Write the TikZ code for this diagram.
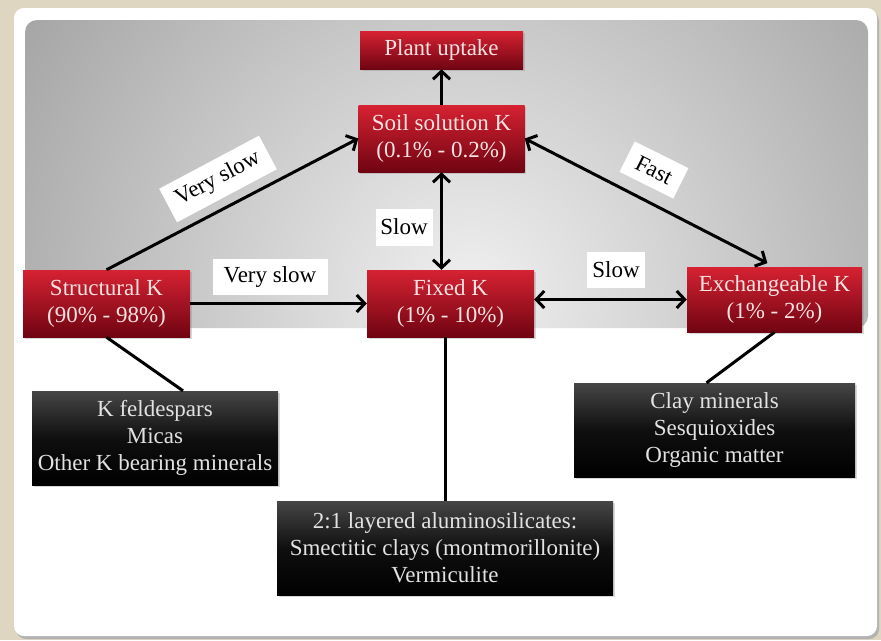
\documentclass[tikz,border=0pt]{standalone}
\usepackage{fontspec}
\setmainfont{Liberation Serif}
\usepackage{xcolor}
\definecolor{kbeige}{RGB}{222,214,193}
\definecolor{kredtop}{RGB}{214,34,50}
\definecolor{kredbot}{RGB}{112,4,18}
\definecolor{kpink}{RGB}{248,226,226}
\definecolor{kgraylight}{RGB}{240,240,240}
\definecolor{kgraydark}{RGB}{92,92,92}
\definecolor{kdarktop}{RGB}{70,70,70}
\definecolor{ksilver}{RGB}{226,226,226}
\usepackage{tikz}
\usetikzlibrary{arrows.meta, positioning, calc, shadows}

\begin{document}
\begin{tikzpicture}[x=1pt, y=-1pt,
  pool/.style={top color=kredtop, bottom color=kredbot, text=kpink, align=center,
      font=\fontsize{23}{27}\selectfont, inner sep=0pt, minimum height=67pt,
      drop shadow={opacity=0.3, shadow xshift=1.5pt, shadow yshift=-2pt}},
  source/.style={top color=kdarktop, bottom color=black, middle color=black!94,
      text=ksilver, align=center, font=\fontsize{23}{27}\selectfont,
      inner sep=0pt, minimum height=94pt,
      drop shadow={opacity=0.3, shadow xshift=1.5pt, shadow yshift=-2pt}},
  rate/.style={fill=white, text=black, font=\fontsize{23}{27}\selectfont,
      inner sep=0pt, minimum height=36pt},
  flow/.style={line width=3pt, -{Straight Barb[length=8pt, width=17pt]}},
  flowboth/.style={line width=3pt,
      {Straight Barb[length=8pt, width=17pt]}-{Straight Barb[length=8pt, width=17pt]}},
  link/.style={line width=3pt}]

\useasboundingbox (0,0) rectangle (881,640);

% --- Slide frame ---
\fill[kbeige] (0,0) rectangle (881,640);
\fill[black!30, rounded corners=10pt] (16,11) rectangle (879,639);
\fill[white, rounded corners=10pt] (14,8) rectangle (877,636);

% --- Gray panel behind the pools ---
\begin{scope}
  \clip[rounded corners=12pt] (25,20) rectangle (868,328);
  \shade[inner color=kgraylight, outer color=kgraydark] (470,295) circle (1040);
\end{scope}

% --- Potassium pools ---
\node[pool, minimum width=163pt, minimum height=38pt] (plant-uptake) at (441.5,50) {Plant uptake};
\node[pool, minimum width=166pt] (soil-sol) at (441.5,138.5) {Soil solution K\\(0.1\% - 0.2\%)};
\node[pool, minimum width=167pt] (fixed-k) at (450.5,303.5) {Fixed K\\(1\% - 10\%)};
\node[pool, minimum width=167pt] (struct-k) at (106.5,303.5) {Structural K\\(90\% - 98\%)};
\node[pool, minimum width=175pt, minimum height=65pt] (exch-k) at (774.5,299.5) {Exchangeable K\\(1\% - 2\%)};

% --- Mineral sources ---
\node[source, minimum width=246pt] (struct-min) at (155,438)
      {K feldespars\\Micas\\Other K bearing minerals};
\node[source, minimum width=281pt] (exch-min) at (714.5,430)
      {Clay minerals\\Sesquioxides\\Organic matter};
\node[source, minimum width=336pt] (fixed-min) at (445,548)
      {2:1 layered aluminosilicates:\\Smectitic clays (montmorillonite)\\Vermiculite};

% --- Transfers between pools ---
\draw[flow] (soil-sol.north) -- (plant-uptake.south);
\draw[flowboth] (soil-sol.south) -- (soil-sol.south |- fixed-k.north);
\draw[flow] (struct-k.north) -- (soil-sol.west);
\draw[flow] (struct-k.east) -- (fixed-k.west);
\draw[flowboth] (fixed-k.east |- exch-k.west) -- (exch-k.west);
\draw[flowboth, shorten >=8pt] (soil-sol.east) -- (exch-k.north);

% pools to their minerals
\draw[link] (struct-k.south) -- ($(struct-min.north)+(28,0)$);
\draw[link] (fixed-k.south -| fixed-min.north) -- (fixed-min.north);
\draw[link] (exch-k.south) -- ($(exch-min.north)+(-8,0)$);

% --- Rate labels ---
\node[rate, minimum width=113pt, minimum height=38pt, rotate=28] (rate-vslow1) at (218,179) {Very slow};
\node[rate, minimum width=115pt] (rate-vslow2) at (270,277) {Very slow};
\node[rate, minimum width=57pt, minimum height=37pt] (rate-slow1) at (404,227) {Slow};
\node[rate, minimum width=58pt] (rate-slow2) at (616,270) {Slow};
\node[rate, minimum width=60pt, minimum height=34pt, rotate=-26.5] (rate-fast) at (654,170) {Fast};

\end{tikzpicture}
\end{document}
